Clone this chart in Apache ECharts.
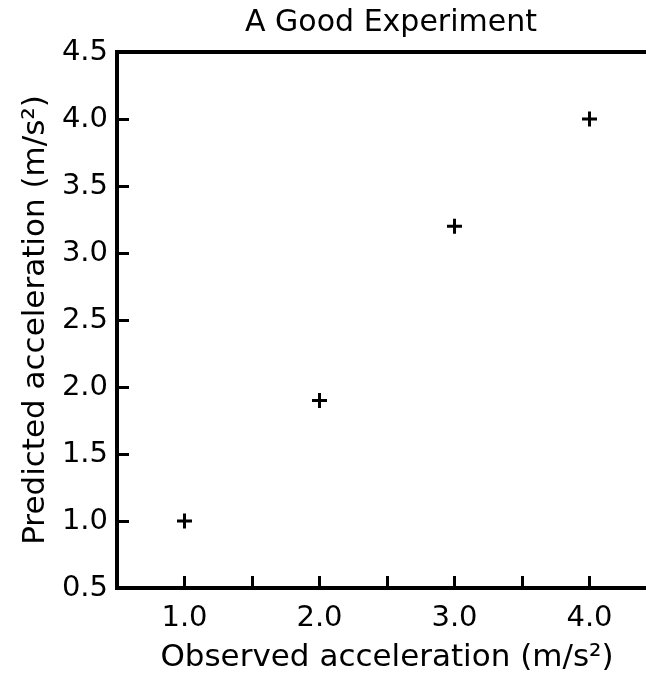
<!DOCTYPE html>
<html>
<head>
<meta charset="utf-8">
<script src="https://cdn.jsdelivr.net/npm/echarts@6/dist/echarts.min.js"></script>
<style>html,body{margin:0;padding:0;background:#fff;}#c{width:646px;height:679px;}</style>
</head>
<body>
<div id="c"></div>
<script>
const observed = [1.0, 2.0, 3.0, 4.0];
const predicted = [1.0, 1.9, 3.2, 4.0];
const titleText = 'A Good Experiment';
const xName = 'Observed acceleration (m/s²)';
const yName = 'Predicted acceleration (m/s²)';

const FONT = 'DejaVu Sans';
const chart = echarts.init(document.getElementById('c'), null, {renderer: 'canvas'});
chart.setOption({
  animation: false,
  backgroundColor: '#fff',
  title: {
    text: titleText, left: 386, top: 3, textAlign: 'center',
    textStyle: {fontFamily: FONT, fontSize: 30, fontWeight: 'normal', color: '#000'}
  },
  grid: {left: 117, top: 52, width: 540, height: 536, show: true, borderColor: '#000', borderWidth: 4,
    containLabel: false, outerBoundsMode: 'none'},
  xAxis: {
    type: 'value', min: 0.5, max: 4.5, interval: 0.5,
    name: xName, nameLocation: 'middle', nameGap: 54,
    nameTextStyle: {fontFamily: FONT, fontSize: 31, color: '#000'},
    axisLine: {show: true, lineStyle: {color: '#000', width: 4}},
    axisTick: {show: true, inside: true, length: 12, lineStyle: {color: '#000', width: 3}},
    axisLabel: {fontFamily: FONT, fontSize: 29, color: '#000', margin: 16,
      formatter: v => (Math.abs(v - Math.round(v)) < 1e-9 && v > 0.6 && v < 4.4) ? v.toFixed(1) : ''},
    splitLine: {show: false}
  },
  yAxis: {
    type: 'value', min: 0.5, max: 4.5, interval: 0.5,
    name: yName, nameLocation: 'middle', nameGap: 64,
    nameTextStyle: {fontFamily: FONT, fontSize: 31, color: '#000'},
    axisLine: {show: true, lineStyle: {color: '#000', width: 4}},
    axisTick: {show: true, inside: true, length: 12, lineStyle: {color: '#000', width: 3}},
    axisLabel: {fontFamily: FONT, fontSize: 29, color: '#000', margin: 9, formatter: v => v.toFixed(1)},
    splitLine: {show: false}
  },
  series: [{
    type: 'scatter',
    data: observed.map((x, i) => [x, predicted[i]]),
    symbol: 'path://M6,0H9V6H15V9H9V15H6V9H0V6H6Z',
    symbolSize: 15,
    itemStyle: {color: '#000', opacity: 1}
  }]
});
</script>
</body>
</html>
